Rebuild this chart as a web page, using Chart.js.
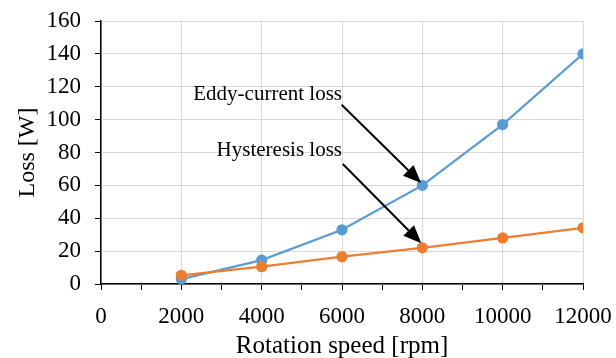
<!DOCTYPE html>
<html>
<head>
<meta charset="utf-8">
<script src="https://cdn.jsdelivr.net/npm/chart.js@4/dist/chart.umd.min.js"></script>
<style>
  html, body { margin: 0; padding: 0; background: #ffffff; }
  #wrap { width: 616px; height: 358px; position: relative; }
</style>
</head>
<body>
<div id="wrap"><canvas id="lossChart"></canvas></div>
<script>
// Loss vs rotation speed
const speeds = [2000, 4000, 6000, 8000, 10000, 12000];
const eddyLoss = [3, 14.5, 33, 60, 97, 140];
const hysteresisLoss = [5.3, 10.5, 16.6, 22, 28, 34.2];

// annotation texts and their anchors (data coordinates)
const noteTexts = ['Eddy-current loss', 'Hysteresis loss'];
const noteX = [6000, 6000];
const noteY = [115.5, 81.5];
const arrowFrom = [[5990, 109], [6020, 73]];
const arrowTo = [[7970, 61.5], [7975, 24.8]];

const colors = {
    eddy: '#5b9bd5',
    hyst: '#ed7d31',
    grid: '#d9d9d9',
    axis: '#000000',
    text: '#000000'
};
const serif = "'Liberation Serif', 'Times New Roman', serif";

function toPoints(xs, ys) {
    return xs.map((x, i) => ({ x: x, y: ys[i] }));
}

// draws the two labels and their arrows
const notesPlugin = {
    id: 'notes',
    afterDatasetsDraw(chart) {
        const ctx = chart.ctx;
        const xs = chart.scales.x, ys = chart.scales.y;
        ctx.save();
        ctx.fillStyle = colors.text;
        ctx.font = '21px ' + serif;
        ctx.textAlign = 'right';
        ctx.textBaseline = 'middle';
        noteTexts.forEach((t, i) => {
            ctx.fillText(t, xs.getPixelForValue(noteX[i]), ys.getPixelForValue(noteY[i]));
        });
        ctx.strokeStyle = colors.axis;
        ctx.lineWidth = 2;
        arrowFrom.forEach((from, i) => {
            const x1 = xs.getPixelForValue(from[0]), y1 = ys.getPixelForValue(from[1]);
            const x2 = xs.getPixelForValue(arrowTo[i][0]), y2 = ys.getPixelForValue(arrowTo[i][1]);
            const ang = Math.atan2(y2 - y1, x2 - x1);
            const headLen = 18, headW = 7.5;
            const bx = x2 - headLen * Math.cos(ang), by = y2 - headLen * Math.sin(ang);
            ctx.beginPath();
            ctx.moveTo(x1, y1);
            ctx.lineTo(bx, by);
            ctx.stroke();
            ctx.beginPath();
            ctx.moveTo(x2, y2);
            ctx.lineTo(bx + headW * Math.sin(ang), by - headW * Math.cos(ang));
            ctx.lineTo(bx - headW * Math.sin(ang), by + headW * Math.cos(ang));
            ctx.closePath();
            ctx.fillStyle = colors.axis;
            ctx.fill();
        });
        ctx.restore();
    }
};

new Chart(document.getElementById('lossChart'), {
    type: 'line',
    data: {
        datasets: [{
            label: 'Eddy-current loss',
            data: toPoints(speeds, eddyLoss),
            borderColor: colors.eddy,
            backgroundColor: colors.eddy,
            pointBackgroundColor: colors.eddy,
            pointBorderColor: colors.eddy,
            borderWidth: 2.25,
            pointRadius: 4.5,
            order: 2
        }, {
            label: 'Hysteresis loss',
            data: toPoints(speeds, hysteresisLoss),
            borderColor: colors.hyst,
            backgroundColor: colors.hyst,
            pointBackgroundColor: colors.hyst,
            pointBorderColor: colors.hyst,
            borderWidth: 2.25,
            pointRadius: 4.5,
            order: 1
        }]
    },
    options: {
        responsive: true,
        maintainAspectRatio: false,
        animation: false,
        layout: { padding: { left: 10, right: 33, top: 21, bottom: 0 } },
        plugins: {
            legend: { display: false },
            tooltip: { enabled: false }
        },
        scales: {
            x: {
                type: 'linear',
                min: 0,
                max: 12000,
                afterFit(scale) {
                    scale.height = 74;
                    scale.paddingLeft = 0;
                    scale.paddingRight = 0;
                },
                border: { color: colors.axis, width: 1.5 },
                grid: {
                    color: (c) => (c.tick && c.tick.value % 2000 === 0) ? colors.grid : 'rgba(0,0,0,0)',
                    tickColor: colors.axis,
                    tickLength: 6
                },
                ticks: {
                    stepSize: 1000,
                    autoSkip: false,
                    maxRotation: 0,
                    padding: 13,
                    color: colors.text,
                    font: { family: serif, size: 23 },
                    callback: (v) => v % 2000 === 0 ? String(v) : ''
                },
                title: {
                    display: true,
                    text: 'Rotation speed [rpm]',
                    color: colors.text,
                    font: { family: serif, size: 25, lineHeight: 0.9 },
                    padding: 0
                }
            },
            y: {
                min: 0,
                max: 160,
                afterFit(scale) {
                    scale.width = 91;
                    scale.paddingTop = 0;
                    scale.paddingBottom = 0;
                },
                border: { color: colors.axis, width: 1.5 },
                grid: {
                    color: colors.grid,
                    tickColor: colors.axis,
                    tickLength: 6
                },
                ticks: {
                    stepSize: 20,
                    padding: 14,
                    color: colors.text,
                    font: { family: serif, size: 23 }
                },
                title: {
                    display: true,
                    text: 'Loss [W]',
                    color: colors.text,
                    font: { family: serif, size: 24 },
                    padding: { top: 3, bottom: 0 }
                }
            }
        }
    },
    plugins: [notesPlugin]
});
</script>
</body>
</html>
